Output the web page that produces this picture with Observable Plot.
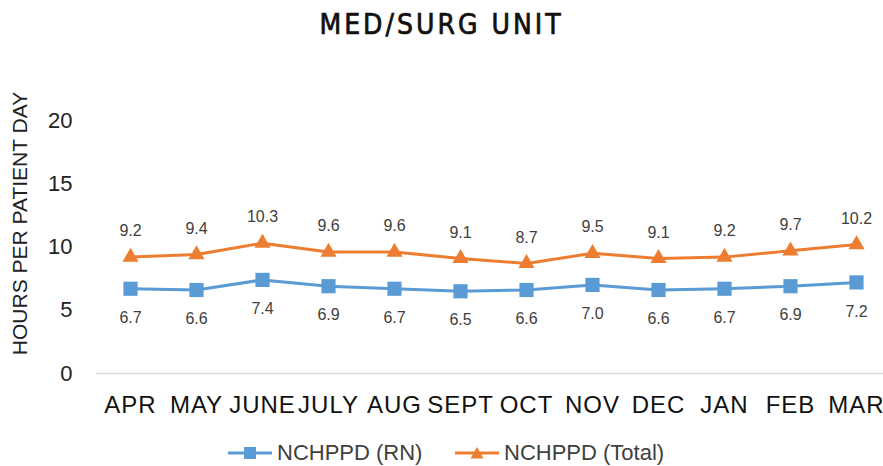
<!DOCTYPE html>
<html>
<head>
<meta charset="utf-8">
<script src="https://cdn.jsdelivr.net/npm/d3@7"></script>
<script src="https://cdn.jsdelivr.net/npm/@observablehq/plot@0.6"></script>
<style>
  html, body { margin: 0; padding: 0; background: #fff; }
  body { width: 883px; height: 466px; overflow: hidden; font-family: "Liberation Sans", Arial, sans-serif; }
  #title { height: 50px; line-height: 50px; text-align: center; font-family: "DejaVu Sans Condensed", "DejaVu Sans", sans-serif; font-stretch: condensed; font-size: 28px; letter-spacing: 3px; color: #111; -webkit-text-stroke: 0.7px #111; }
  #chart { height: 390px; }
  #legend { position: relative; height: 26px; font-size: 22px; color: #404040; }
  .item { position: absolute; top: 0; height: 26px; display: flex; align-items: center; }
  .item svg { margin-right: 5px; }
  svg [aria-label="x-axis tick label"] text, svg [aria-label="x-axis tick label"] { letter-spacing: 1px; }
</style>
</head>
<body>
<div id="title">MED/SURG UNIT</div>
<div id="chart"></div>
<div id="legend"></div>
<script>
const months = ["APR", "MAY", "JUNE", "JULY", "AUG", "SEPT", "OCT", "NOV", "DEC", "JAN", "FEB", "MAR"];
const rnValues = [6.7, 6.6, 7.4, 6.9, 6.7, 6.5, 6.6, 7.0, 6.6, 6.7, 6.9, 7.2];
const totalValues = [9.2, 9.4, 10.3, 9.6, 9.6, 9.1, 8.7, 9.5, 9.1, 9.2, 9.7, 10.2];
const yTicks = [0, 5, 10, 15, 20];
const seriesNames = ["NCHPPD (RN)", "NCHPPD (Total)"];
const seriesColors = ["#5B9BD5", "#ED7D31"];
const yTitle = "HOURS PER PATIENT DAY";

const rn = months.map((m, i) => ({month: m, value: rnValues[i]}));
const total = months.map((m, i) => ({month: m, value: totalValues[i]}));

const chart = Plot.plot({
  width: 883,
  height: 390,
  marginLeft: 96,
  marginRight: 0,
  marginTop: 70,
  marginBottom: 67,
  style: {fontFamily: "'Liberation Sans', Arial, sans-serif", background: "white", overflow: "visible"},
  x: {type: "point", domain: months, range: [96, 889], padding: 0.5},
  y: {domain: [0, 20]},
  marks: [
    Plot.ruleY([0], {stroke: "#d9d9d9", strokeWidth: 1.5}),
    Plot.axisY({ticks: yTicks, tickSize: 0, tickPadding: 24, fontSize: 22, fill: "#222", label: null}),
    Plot.axisX({tickSize: 0, tickPadding: 22, fontSize: 24, fill: "#111", label: null}),
    Plot.text([yTitle], {frameAnchor: "left", textAnchor: "middle", rotate: -90, dx: -76, dy: -23.5, fontSize: 21, fill: "#222"}),
    Plot.lineY(rn, {x: "month", y: "value", stroke: seriesColors[0], strokeWidth: 3}),
    Plot.lineY(total, {x: "month", y: "value", stroke: seriesColors[1], strokeWidth: 3}),
    Plot.dot(rn, {x: "month", y: "value", symbol: "square", r: 8, fill: seriesColors[0], stroke: "none"}),
    Plot.dot(total, {x: "month", y: "value", symbol: "triangle", r: 6, fill: seriesColors[1], stroke: "none"}),
    Plot.text(total, {x: "month", y: "value", text: d => d.value.toFixed(1), dy: -26, fontSize: 16, fill: "#404040"}),
    Plot.text(rn, {x: "month", y: "value", text: d => d.value.toFixed(1), dy: 29, fontSize: 16, fill: "#404040"})
  ]
});
document.getElementById("chart").appendChild(chart);

// legend
const legend = document.getElementById("legend");
const lefts = [228, 455];
seriesNames.forEach((name, i) => {
  const item = document.createElement("div");
  item.className = "item";
  item.style.left = lefts[i] + "px";
  const marker = i === 0
    ? `<rect x="16" y="7" width="12" height="12" fill="${seriesColors[i]}"/>`
    : `<path d="M22,7 L28.5,18.5 L15.5,18.5 Z" fill="${seriesColors[i]}"/>`;
  item.innerHTML = `<svg width="44" height="26"><line x1="0" x2="44" y1="13" y2="13" stroke="${seriesColors[i]}" stroke-width="3"/>${marker}</svg><span>${name}</span>`;
  legend.appendChild(item);
});
</script>
</body>
</html>
